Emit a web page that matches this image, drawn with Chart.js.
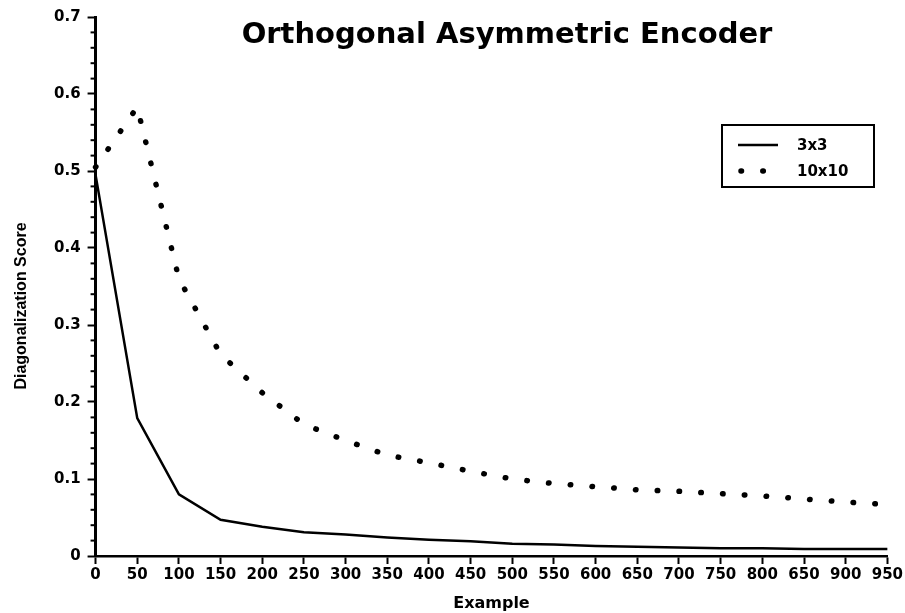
<!DOCTYPE html>
<html>
<head>
<title>Orthogonal Asymmetric Encoder</title>
<style> html, body { margin: 0; padding: 0; background: #fff; } #wrap { position: relative; width: 905px; height: 613px; } </style>
<script src="https://cdn.jsdelivr.net/npm/chart.js@4.4.1/dist/chart.umd.min.js"></script>
</head>
<body>
<div id="wrap"><canvas id="encoderChart" width="905" height="613"></canvas></div>
<script>
// examples seen, one point every 50
let examples = [0,50,100,150,200,250,300,350,400,450,500,550,600,650,700,750,800,850,900,950];
let score3x3 = [0.495,0.179,0.080,0.047,0.038,0.031,0.028,0.024,0.021,0.019,0.016,0.015,0.013,0.012,0.011,0.010,0.010,0.009,0.009,0.009];
let score10x10 = [0.505,0.583,0.360,0.262,0.212,0.171,0.150,0.131,0.121,0.110,0.100,0.094,0.090,0.086,0.084,0.081,0.078,0.074,0.070,0.067];
// tick labels as printed (the 850 tick reads 650 in the original)
let xTickLabels = ['0','50','100','150','200','250','300','350','400','450','500','550','600','650','700','750','800','650','900','950'];
let yTickLabels = ['0','0.1','0.2','0.3','0.4','0.5','0.6','0.7'];
let seriesNames = ['3x3','10x10'];
let chartTitle = 'Orthogonal Asymmetric Encoder';
let xTitle = 'Example', yTitle = 'Diagonalization Score';

const BOLD = 'bold 15px "DejaVu Sans"';

function isMajor(v){ return Math.abs(v*10 - Math.round(v*10)) < 1e-6; }

// titles, minor ticks and the boxed legend
let extras = {
  id: 'extras',
  afterDraw(chart){
    let c = chart.ctx, a = chart.chartArea, y = chart.scales.y;
    c.save();
    c.fillStyle = '#000'; c.strokeStyle = '#000';
    // minor ticks on the y axis
    c.lineWidth = 2;
    y.ticks.forEach(t => {
      if (isMajor(t.value)) return;
      let py = y.getPixelForValue(t.value);
      c.beginPath(); c.moveTo(a.left - 5, py); c.lineTo(a.left, py); c.stroke();
    });
    // chart title
    c.font = 'bold 29px "DejaVu Sans"';
    c.textAlign = 'center'; c.textBaseline = 'alphabetic';
    c.fillText(chartTitle, 507, 43);
    // axis titles
    c.font = 'bold 16px "DejaVu Sans"';
    c.fillText(xTitle, (a.left + a.right)/2, 608);
    c.save();
    c.translate(22, 306); c.rotate(-Math.PI/2);
    c.font = 'bold 16px "Liberation Sans"';
    c.textBaseline = 'middle';
    c.fillText(yTitle, 0, 0);
    c.restore();
    // legend box
    let bx = 722, by = 125, bw = 152, bh = 62;
    c.lineWidth = 2;
    c.strokeRect(bx, by, bw, bh);
    let d0 = chart.data.datasets[0], d1 = chart.data.datasets[1];
    c.lineWidth = d0.borderWidth;
    c.beginPath(); c.moveTo(738, 145); c.lineTo(778, 145); c.stroke();
    c.lineWidth = d1.borderWidth; c.lineCap = 'round';
    c.setLineDash(d1.borderDash);
    c.beginPath(); c.moveTo(741, 171); c.lineTo(770, 171); c.stroke();
    c.setLineDash([]);
    c.font = BOLD; c.textAlign = 'left'; c.textBaseline = 'middle';
    c.fillText(seriesNames[0], 797, 146);
    c.fillText(seriesNames[1], 797, 172);
    c.restore();
  }
};

let chart = new Chart(document.getElementById('encoderChart'), {
  type: 'line',
  data: {
    datasets: [{
      label: seriesNames[0],
      data: examples.map((x, i) => ({x: x, y: score3x3[i]})),
      borderColor: '#000',
      borderWidth: 2.5,
      pointRadius: 0,
      tension: 0,
      clip: false
    }, {
      label: seriesNames[1],
      data: examples.map((x, i) => ({x: x, y: score10x10[i]})),
      borderColor: '#000',
      borderWidth: 5.5,
      borderDash: [0.5, 21.3],
      borderCapStyle: 'round',
      pointRadius: 0,
      tension: 0,
      clip: false
    }]
  },
  options: {
    responsive: false,
    animation: false,
    layout: { padding: { left: 47, right: 2, top: 17, bottom: 27 } },
    plugins: { legend: { display: false }, title: { display: false }, tooltip: { enabled: false } },
    scales: {
      x: {
        type: 'linear', min: 0, max: 950,
        border: { color: '#000', width: 2.5 },
        grid: { drawOnChartArea: false, tickLength: 8, tickColor: '#000', tickWidth: 2 },
        ticks: { stepSize: 50, autoSkip: false, maxRotation: 0, padding: 2, color: '#000', font: { family: 'DejaVu Sans', size: 15, weight: 'bold' },
          callback: (v, i) => xTickLabels[i] }
      },
      y: {
        min: 0, max: 0.7,
        border: { color: '#000', width: 3 },
        grid: { drawOnChartArea: false, tickLength: 8, tickWidth: 2,
          tickColor: ctx => isMajor(ctx.tick.value) ? '#000' : 'rgba(0,0,0,0)' },
        ticks: { stepSize: 0.02, autoSkip: false, padding: 7, color: '#000', font: { family: 'DejaVu Sans', size: 15, weight: 'bold' },
          callback: v => isMajor(v) ? yTickLabels[Math.round(v*10)] : '' }
      }
    }
  },
  plugins: [extras]
});
</script>
</body>
</html>
